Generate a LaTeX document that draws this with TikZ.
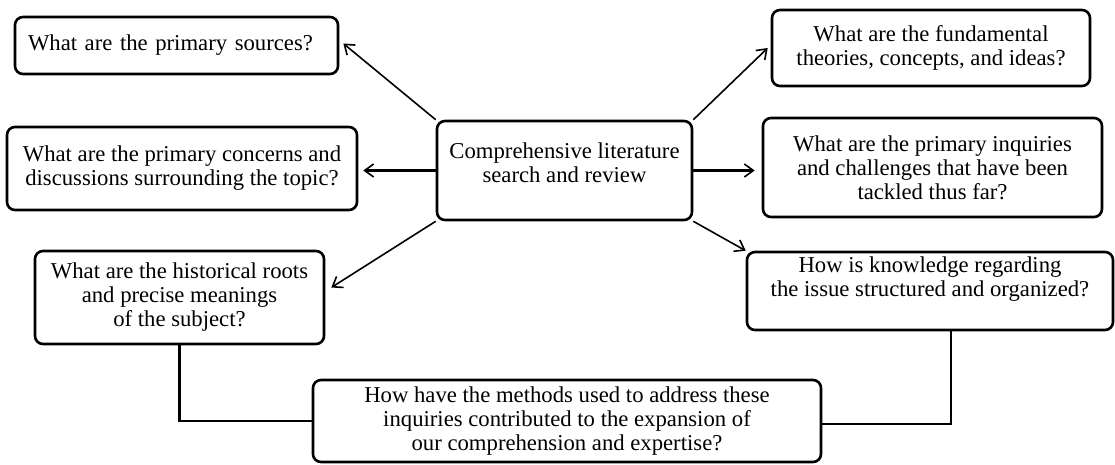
\documentclass[tikz,border=0pt]{standalone}
\usepackage{fontspec}
\setmainfont{Liberation Serif}
\usetikzlibrary{arrows.meta}

\begin{document}
\begin{tikzpicture}[
    x=1pt, y=-1pt,
    qbox/.style={rectangle, rounded corners=8pt, draw=black, line width=2.6pt,
        fill=white, align=center, inner sep=4pt,
        font=\fontsize{22.7}{24}\selectfont},
    arr/.style={line width=1.6pt, -{Straight Barb[length=9pt,width=13pt,line width=1.6pt]}},
    harr/.style={arr, line width=2.4pt},
    link/.style={line width=2.6pt, -}
]
    \useasboundingbox (0,0) rectangle (1115,464);
    \node[qbox, minimum width=255pt, minimum height=99pt] (hub) at (564.5,170.5)
        {Comprehensive literature\\ search and review\\[-9pt]};
    \node[qbox, text width=297pt, align=left, inner xsep=13pt, minimum height=57pt] (src) at (176.5,45.5)
        {What are the primary sources?};
    \node[qbox, minimum width=350pt, minimum height=83pt] (conc) at (182,168.5)
        {What are the primary concerns and\\ discussions surrounding the topic?};
    \node[qbox, minimum width=289pt, minimum height=93pt] (roots) at (179.5,297.5)
        {What are the historical roots\\ and precise meanings\\ of the subject?};
    \node[qbox, minimum width=318pt, minimum height=76pt] (theo) at (931,48)
        {What are the fundamental\\ theories, concepts, and ideas?};
    \node[qbox, minimum width=339pt, minimum height=99pt] (inq) at (932.5,167.5)
        {What are the primary inquiries\\ and challenges that have been\\ tackled thus far?};
    \node[qbox, minimum width=366pt, minimum height=78pt] (know) at (930,291)
        {How is knowledge regarding\\ the issue structured and organized?\\[4pt]};
    \node[qbox, minimum width=508pt, minimum height=82pt] (meth) at (567,421)
        {How have the methods used to address these\\ inquiries contributed to the expansion of\\ our comprehension and expertise?};
    \draw[arr] (hub.north west) -- ([xshift=4pt,yshift=2pt]src.east);
    \draw[harr] (hub.west) -- ([xshift=5pt]hub.west -| conc.east);
    \draw[arr] (hub.south west) -- ([shift={(6,-10)}]roots.east);
    \draw[arr] (hub.north east) -- ([xshift=-3pt]theo.west);
    \draw[harr] (hub.east) -- ([xshift=-7pt]hub.east -| inq.west);
    \draw[arr] (hub.south east) -- (know.north west);
    \draw[link] (roots.south) |- (meth.west);
    \draw[link] ([xshift=21pt]know.south) |- ([yshift=-3pt]meth.east);
\end{tikzpicture}
\end{document}
